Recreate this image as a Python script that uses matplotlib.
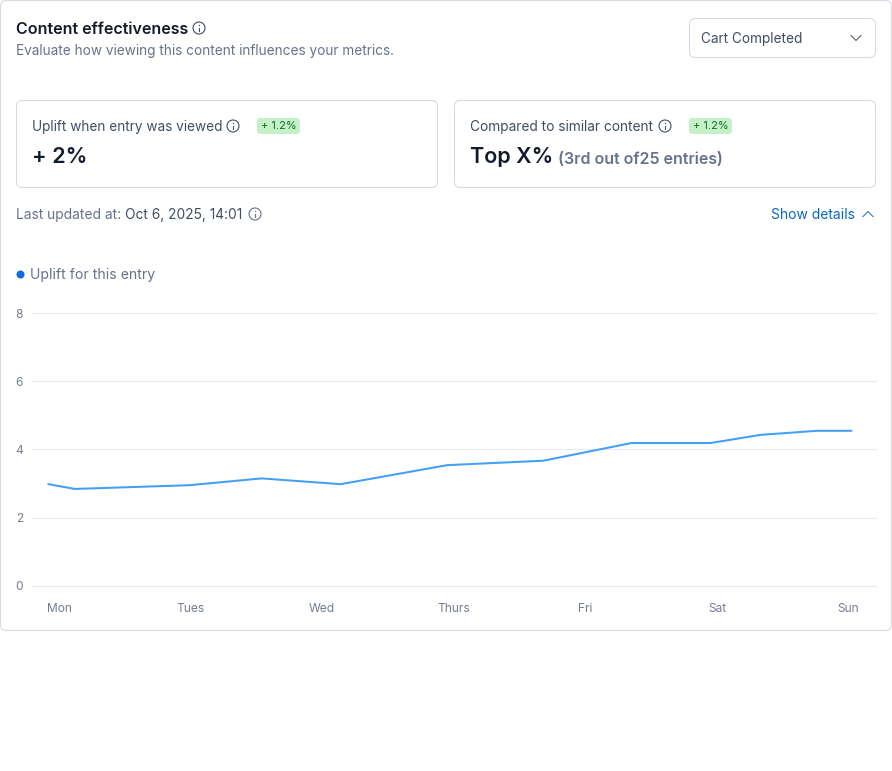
import matplotlib.pyplot as plt
from matplotlib.patches import FancyBboxPatch, Circle

plt.rcParams['font.family'] = ['Inter', 'DejaVu Sans']

days = ['Mon', 'Tues', 'Wed', 'Thurs', 'Fri', 'Sat', 'Sun']
y_ticks = [0, 2, 4, 6, 8]
uplift_x = [-0.08, 0.12, 0.99, 1.54, 2.14, 2.95, 3.68, 4.35, 4.95, 5.33, 5.76, 6.02]
uplift_y = [2.98, 2.84, 2.95, 3.15, 2.98, 3.54, 3.67, 4.19, 4.19, 4.43, 4.55, 4.55]

W, H = 892, 771
PX = 0.72  # css px to pt at dpi 100

DARK = '#111b2b'
TEXT = '#414d63'
MUTED = '#67728a'
BORDER = '#d5dae0'
BLUE = '#0b66c3'


def box(ax, x0, y0, x1, y1, r=6, fc='white', ec=BORDER, lw=0.75):
    ax.add_patch(FancyBboxPatch((x0 + r, y0 + r), x1 - x0 - 2 * r, y1 - y0 - 2 * r,
                                boxstyle='round,pad=%d,rounding_size=%d' % (r, r),
                                fc=fc, ec=ec, lw=lw))


def label(ax, x, y, s, size, color, weight='normal', ha='left'):
    ax.text(x, y + 1, s, fontsize=size * PX, color=color, fontweight=weight, ha=ha, va='center')


def info(ax, x, y, color=TEXT, r=6):
    ax.add_patch(Circle((x, y), r, fc='none', ec=color, lw=0.8))
    ax.plot([x, x], [y - 0.5, y + 3], color=color, lw=0.8)
    ax.plot([x], [y - 2.6], 'o', color=color, ms=1.0, mew=0)


def chevron(ax, x, y, up=False, color=TEXT):
    d = -2.5 if up else 2.5
    ax.plot([x - 5, x, x + 5], [y - d, y + d, y - d], color=color, lw=0.7)


fig = plt.figure(figsize=(W / 100, H / 100), dpi=100)

page = fig.add_axes([0, 0, 1, 1])
page.set_xlim(0, W)
page.set_ylim(H, 0)
page.axis('off')

box(page, 0.5, 0.5, 891.5, 630.5)
label(page, 16, 28, 'Content effectiveness', 16, DARK, 'semibold')
info(page, 199, 28, TEXT)
label(page, 16, 50, 'Evaluate how viewing this content influences your metrics.', 13.6, MUTED)

box(page, 689.5, 18.5, 875.5, 57.5)
label(page, 701, 38, 'Cart Completed', 13.6, TEXT)
chevron(page, 856, 38)

box(page, 16.5, 100.5, 437.5, 187.5)
label(page, 32, 126, 'Uplift when entry was viewed', 13.6, TEXT)
info(page, 233, 126)
box(page, 257, 118, 300, 134, r=3, fc='#c4f2c6', ec='none', lw=0)
label(page, 278.5, 125, '+ 1.2%', 11, '#0e6b2b', ha='center')
label(page, 32, 156, '+ 2%', 21.7, DARK, 'semibold')

box(page, 454.5, 100.5, 875.5, 187.5)
label(page, 470, 126, 'Compared to similar content', 13.7, TEXT)
info(page, 665, 126)
box(page, 689, 118, 732, 134, r=3, fc='#c4f2c6', ec='none', lw=0)
label(page, 710.5, 125, '+ 1.2%', 11, '#0e6b2b', ha='center')
label(page, 470, 156, 'Top X%', 21.5, DARK, 'semibold')
label(page, 558, 158, '(3rd out of25 entries)', 15.9, MUTED, 'semibold')

label(page, 16, 214, 'Last updated at:', 13.8, MUTED)
label(page, 125, 214, 'Oct 6, 2025, 14:01', 13.7, TEXT)
info(page, 255, 214, MUTED)
label(page, 771, 214, 'Show details', 13.9, BLUE)
chevron(page, 868, 214, up=True, color=BLUE)

page.plot([20], [274], 'o', color='#0f6fde', ms=5.8, mew=0)
label(page, 30, 274, 'Uplift for this entry', 14, MUTED)

# chart area, gridlines run 32..876 px, 8 at 313.5 and 0 at 585.5
ax = fig.add_axes([32 / W, 1 - 585.5 / H, 843.5 / W, 272 / H])
ax.patch.set_alpha(0)
ax.set_xlim((32 - 59) / 131.6, (875.5 - 59) / 131.6)
ax.set_ylim(0, 8)
ax.plot(uplift_x, uplift_y, color='#41a0f5', lw=1.45, clip_on=False)
ax.set_xticks(range(len(days)))
ax.set_xticklabels(days)
ax.set_yticks(y_ticks)
ax.tick_params(axis='both', length=0, labelsize=12 * PX, labelcolor='#747d92')
ax.tick_params(axis='x', pad=12.3)
ax.tick_params(axis='y', pad=6.5)
ax.grid(axis='y', color='#e7e9ed', lw=0.75)
for line in ax.get_ygridlines():
    line.set_clip_on(False)
ax.set_axisbelow(True)
for spine in ax.spines.values():
    spine.set_visible(False)

fig.savefig('out.png', dpi=100)
